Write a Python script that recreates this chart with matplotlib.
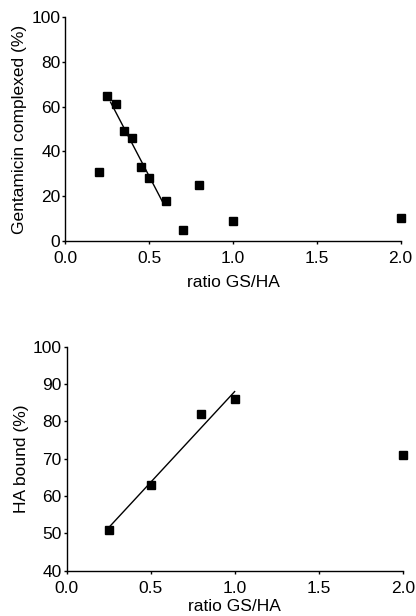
import numpy as np
import matplotlib
matplotlib.use('Agg')
import matplotlib.pyplot as plt

plt.rcParams['font.family'] = ['Liberation Sans', 'DejaVu Sans']
plt.rcParams['font.size'] = 12.5

# top panel: gentamicin complexed vs ratio
gs_ratio = [0.2, 0.25, 0.3, 0.35, 0.4, 0.45, 0.5, 0.6, 0.7, 0.8, 1.0, 2.0]
gs_complexed = [31, 65, 61, 49, 46, 33, 28, 18, 5, 25, 9, 10]
fit1_x = [0.27, 0.59]
fit1_y = [62, 16]

# bottom panel: HA bound vs ratio
ha_ratio = [0.25, 0.5, 0.8, 1.0, 2.0]
ha_bound = [51, 63, 82, 86, 71]
fit2_x = [0.26, 1.0]
fit2_y = [52, 88]

fig = plt.figure(figsize=(4.16, 6.16), dpi=100)
ax1 = fig.add_axes([0.157, 0.609, 0.806, 0.363])
ax2 = fig.add_axes([0.160, 0.0735, 0.808, 0.3635])

def style(ax, lpad):
    for s in ['top', 'right']:
        ax.spines[s].set_visible(False)
    for s in ['left', 'bottom']:
        ax.spines[s].set_linewidth(1.0)
    ax.tick_params(direction='out', length=2.5, width=1)
    ax.tick_params(axis='y', pad=1)
    ax.tick_params(axis='x', pad=5)
    ax.set_xlim(0, 2.0)
    ax.set_xticks([0.0, 0.5, 1.0, 1.5, 2.0])
    ax.set_xticklabels(['0.0', '0.5', '1.0', '1.5', '2.0'])
    ax.set_xlabel('ratio GS/HA', labelpad=lpad)

ax1.plot(gs_ratio, gs_complexed, 's', color='black', markersize=6, clip_on=False)
ax1.plot(fit1_x, fit1_y, '-', color='black', linewidth=1)
style(ax1, 6)
ax1.set_ylim(0, 100)
ax1.set_yticks(np.arange(0, 101, 20))
ax1.set_ylabel('Gentamicin complexed (%)', labelpad=3)

ax2.plot(ha_ratio, ha_bound, 's', color='black', markersize=6, clip_on=False)
ax2.plot(fit2_x, fit2_y, '-', color='black', linewidth=1)
style(ax2, 2)
ax2.set_ylim(40, 100)
ax2.set_yticks(np.arange(40, 101, 10))
ax2.set_ylabel('HA bound (%)', labelpad=3)

fig.savefig('out.png', dpi=100)
